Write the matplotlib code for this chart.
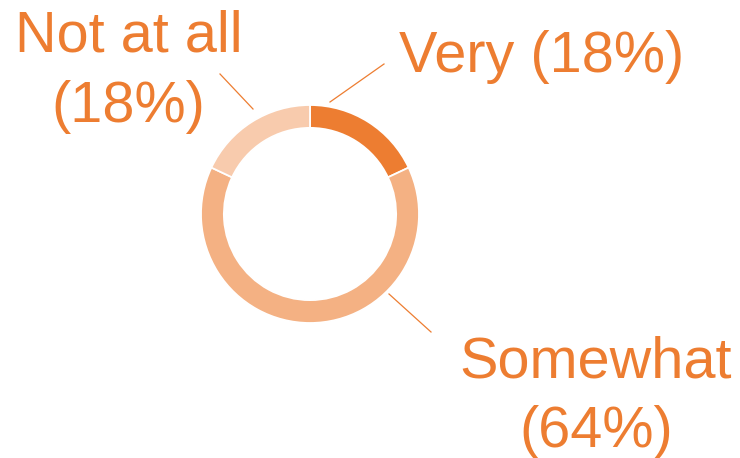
import matplotlib
matplotlib.use("Agg")
import matplotlib.pyplot as plt
from matplotlib.lines import Line2D

# survey answers
labels = ["Very", "Somewhat", "Not at all"]
shares = [18, 64, 18]
colors = ["#ED7D31", "#F4B183", "#F8CBAD"]
TEXT_COLOR = "#ED7D31"

W, H = 740, 458
fig = plt.figure(figsize=(W / 100, H / 100), dpi=100)
plt.rcParams['font.family'] = ['Liberation Sans', 'DejaVu Sans']


def fx(x):
    return x / W


def fy(y):
    # pixel rows are counted from the top
    return 1 - y / H


# donut, center (310, 214), outer radius 109 px
cx, cy, r = 310, 214, 109
ax = fig.add_axes([fx(cx - r), fy(cy + r), 2 * r / W, 2 * r / H])
ax.pie(shares, colors=colors, startangle=90, counterclock=False, radius=1,
       wedgeprops=dict(width=0.21, edgecolor="white", linewidth=1.3))
ax.set_xlim(-1, 1)
ax.set_ylim(-1, 1)
ax.axis("off")

# leader lines
leaders = [((330, 102), (384, 64)),
           ((389, 294), (431, 332)),
           ((253, 109), (220, 74))]
for (x0, y0), (x1, y1) in leaders:
    fig.add_artist(Line2D([fx(x0), fx(x1)], [fy(y0), fy(y1)],
                          color=TEXT_COLOR, lw=0.9))

fs = 41.5
txt = dict(color=TEXT_COLOR, fontsize=fs, ha="center", va="baseline")

fig.text(fx(541.5), fy(72), f"{labels[0]} ({shares[0]}%)", **txt)
fig.text(fx(596), fy(377), labels[1], **txt)
fig.text(fx(596), fy(447), f"({shares[1]}%)", **txt)
fig.text(fx(128.5), fy(52), labels[2], **txt)
fig.text(fx(128.5), fy(122), f"({shares[2]}%)", **txt)

fig.savefig("out.png", dpi=100)
